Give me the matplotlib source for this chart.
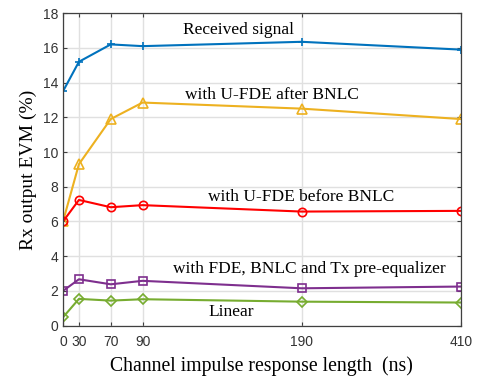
import matplotlib
matplotlib.use("Agg")
import matplotlib.pyplot as plt

x_labels = ["0", "30", "70", "90", "190", "410"]
x_pos = [0, 1, 3, 5, 15, 25]

received = [13.5, 15.2, 16.2, 16.1, 16.35, 15.9]
ufde_after = [6.0, 9.3, 11.9, 12.85, 12.5, 11.9]
ufde_before = [6.0, 7.24, 6.82, 6.94, 6.57, 6.61]
fde_tx = [2.0, 2.67, 2.38, 2.58, 2.15, 2.25]
linear = [0.48, 1.54, 1.44, 1.52, 1.38, 1.33]

fig = plt.figure(figsize=(4.81, 3.76), dpi=100)
ax = fig.add_axes([0.131, 0.134, 0.827, 0.831])

ax.plot(x_pos, received, color="#0072BD", marker="+", ms=6, lw=1.5, mew=1.2)
ax.plot(x_pos, ufde_after, color="#EDB120", marker="^", ms=7, lw=1.5, mfc="none", mew=1.2)
ax.plot(x_pos, ufde_before, color="#FF0000", marker="o", ms=6, lw=1.5, mfc="none", mew=1.2)
ax.plot(x_pos, fde_tx, color="#7E2F8E", marker="s", ms=6, lw=1.5, mfc="none", mew=1.2)
ax.plot(x_pos, linear, color="#77AC30", marker="D", ms=5.5, lw=1.5, mfc="none", mew=1.2)

ax.set_xlim(0, 25)
ax.set_ylim(0, 18)
ax.set_xticks(x_pos)
ax.set_xticklabels(x_labels, fontfamily="Liberation Sans", fontsize=10)
ax.set_yticks(range(0, 19, 2))
ax.set_yticklabels([str(v) for v in range(0, 19, 2)], fontfamily="Liberation Sans", fontsize=10)
ax.tick_params(direction="in", length=3, color="#404040", labelcolor="#333333", top=True, right=True)
ax.tick_params(axis="x", pad=7)
ax.grid(True, color="#E0E0E0", lw=1)
ax.set_axisbelow(True)
for s in ax.spines.values():
    s.set_color("#404040")
    s.set_linewidth(0.9)

serif = "Liberation Serif"
fs = 12.5
ax.text(11.0, 17.04, "Received signal", fontfamily=serif, fontsize=fs, ha="center", va="center")
ax.text(13.13, 13.3, "with U-FDE after BNLC", fontfamily=serif, fontsize=fs, ha="center", va="center")
ax.text(14.95, 7.42, "with U-FDE before BNLC", fontfamily=serif, fontsize=fs, ha="center", va="center")
ax.text(15.45, 3.27, "with FDE, BNLC and Tx pre-equalizer", fontfamily=serif, fontsize=fs, ha="center", va="center")
ax.text(10.6, 0.79, "Linear", fontfamily=serif, fontsize=fs, ha="center", va="center")

ax.set_xlabel("Channel impulse response length  (ns)", fontfamily=serif, fontsize=14.2, labelpad=5)
ax.set_ylabel("Rx output EVM (%)", fontfamily=serif, fontsize=14, labelpad=4)

fig.savefig("out.png", dpi=100)
